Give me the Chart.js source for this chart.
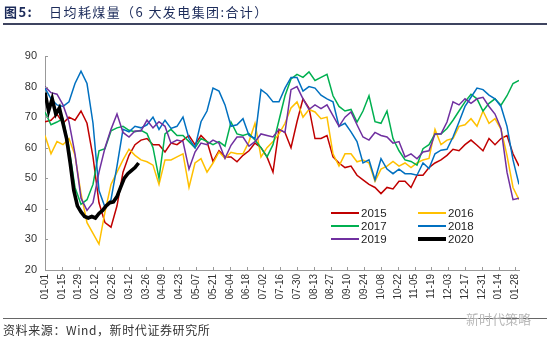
<!DOCTYPE html>
<html>
<head>
<meta charset="utf-8">
<script src="https://cdn.jsdelivr.net/npm/chart.js@4.4.1/dist/chart.umd.min.js"></script>
<style>
  body { margin: 0; background: #fff; }
  #wrap { position: relative; width: 550px; height: 340px; overflow: hidden; }
  #chart { position: absolute; left: 0; top: 0; }
  .title { position: absolute; left: 4px; top: 2px; font: 13px "Noto Sans CJK SC"; color: #1c2b5a; white-space: nowrap; letter-spacing: 1.4px; }
  .title b { margin-right: 16px; }
  .rule { position: absolute; left: 3px; width: 544px; }
  .source { position: absolute; left: 3px; top: 321px; font: 12px "Noto Sans CJK SC"; color: #333; white-space: nowrap; letter-spacing: 0.6px; }
  .mark { position: absolute; left: 466px; top: 309px; font: 13px "Noto Sans CJK SC"; color: #b8b8b8; white-space: nowrap; }
</style>
</head>
<body>
<div id="wrap">
  <canvas id="chart" width="550" height="340"></canvas>
  <div class="title"><b>图5:</b>日均耗煤量（6 大发电集团:合计）</div>
  <div class="rule" style="top:23px;height:1.5px;background:#3e4460;"></div>
  <div class="rule" style="top:318px;height:1px;background:#666;"></div>
  <div class="source">资料来源：Wind，新时代证券研究所</div>
  <div class="mark">新时代策略</div>
</div>
<script>
// day offsets from 01-01
var days = [0, 5, 10, 15, 20, 25, 30, 35, 40, 45,
  50, 55, 60, 65, 70, 75, 80, 85, 90, 95,
  100, 105, 110, 115, 120, 125, 130, 135, 140, 145,
  150, 155, 160, 165, 170, 175, 180, 185, 190, 195,
  200, 205, 210, 215, 220, 225, 230, 235, 240, 245,
  250, 255, 260, 265, 270, 275, 280, 285, 290, 295,
  300, 305, 310, 315, 320, 325, 330, 335, 340, 345,
  350, 355, 360, 365, 370, 375, 380, 385, 390, 395];
var days2020 = [0, 3, 6, 9, 12, 15, 18, 21, 24, 27, 30, 33, 36, 39, 42,
  45, 48, 51, 54, 57, 60, 63, 66, 69, 72, 75, 78];

var tickLabels = ["01-01", "01-15", "01-29", "02-12", "02-26", "03-12", "03-26",
  "04-09", "04-23", "05-07", "05-21", "06-04", "06-18", "07-02", "07-16", "07-30",
  "08-13", "08-27", "09-10", "09-24", "10-08", "10-22", "11-05", "11-19", "12-03",
  "12-17", "12-31", "01-14", "01-28"];

var y2015 = [68.5, 69, 71, 68, 70, 69, 72, 68, 57, 42,
  35.5, 34, 41, 52, 57.5, 61, 62.5, 63, 61, 61,
  58.6, 61.5, 61, 62.5, 64, 61, 64, 62, 55.5, 59,
  57, 57, 55.4, 57.5, 59, 61.5, 60, 57, 52, 66,
  65, 60, 68.5, 76, 73, 63, 63, 64, 57, 55,
  53.5, 54, 51, 49.5, 48, 47, 45, 47, 46.5, 49,
  49, 47, 51, 51, 53.5, 55, 56, 57.5, 59.5, 59,
  61, 62.5, 60.8, 59, 63, 61, 63, 64, 58, 54];
var y2016 = [64, 58, 62, 61, 63, 57.5, 45, 35.5, 32, 28.5,
  39, 48, 52, 56, 59.5, 57.5, 56, 55.4, 54.3, 48,
  56, 56, 57, 58, 47, 55, 56.4, 52, 55, 58.6,
  56.5, 58.5, 58, 58, 62, 68, 57, 60, 62, 64.5,
  68, 73, 75, 70, 72.5, 71.7, 69.5, 70, 58, 54,
  58, 58, 55.4, 56, 55, 49, 53, 54, 55.5, 54,
  55, 53.5, 55, 56, 56.5, 66, 61, 62.5, 63, 67,
  67.5, 69.5, 67, 72, 68, 69.5, 66, 57.5, 47, 43];
var y2017 = [71.7, 67.5, 68.4, 69.5, 60, 47, 41.5, 43, 48, 59,
  59.7, 65.5, 66.5, 67, 65.7, 65.2, 65.7, 64.6, 60, 50,
  64.5, 66, 64, 64, 62, 60, 63, 62, 61, 62,
  60.5, 68.4, 64.5, 64, 64.6, 62.5, 60, 57, 61, 69,
  77, 82.5, 84, 83, 84.8, 82, 83, 84, 77, 73.5,
  72, 72.5, 68.4, 72, 77, 68.5, 68, 72, 63, 59,
  56, 55.5, 54.3, 59.7, 61, 64.5, 64.5, 66.3, 69, 72,
  75, 77.5, 76, 72, 74.5, 76, 73.9, 77, 81, 82];
var y2018 = [79.5, 76, 74, 73.5, 75, 81, 85, 81, 68, 46,
  40.5, 43, 54, 66, 65.2, 67, 66.5, 67.5, 70, 66,
  69, 66.3, 67, 70, 63, 60, 68.5, 72, 79.5, 78.5,
  74, 67, 67.5, 69.5, 64, 63, 79, 77.5, 75, 75,
  79.5, 83, 83, 78.5, 80, 79.5, 77.2, 76, 75, 67,
  68, 65.2, 62, 55, 56, 49.5, 56.4, 53, 51.5, 53,
  51.5, 51.5, 51, 55, 53.2, 58, 59.2, 59.5, 63.5, 68.4,
  73.5, 76.5, 79.5, 79, 77.2, 76, 73.5, 67, 56, 48];
var y2019 = [80, 78, 77.5, 74, 68.4, 58, 43.5, 39.5, 42, 52,
  60, 66, 71, 65, 63.5, 65.5, 65.5, 69, 66.5, 68.5,
  67, 61.5, 62.5, 62, 53, 58.6, 61.5, 61, 62.5, 61.5,
  56.5, 60.8, 63.5, 63.5, 60.5, 62, 64.5, 64, 63.5, 66,
  65, 79, 80, 76, 72.5, 74, 72.8, 74, 70.5, 67,
  70, 71.7, 67.5, 63.5, 62.5, 65, 64, 63.5, 61.5, 62,
  57, 58, 56.4, 58.6, 59, 64.5, 64.5, 68.4, 75, 74,
  76, 74.5, 76, 76.5, 73.5, 71, 66.3, 52, 43, 43.5];
var y2020 = [78, 72, 76, 71, 73, 68, 63, 55, 46, 41, 39, 37.5, 37, 37.5, 37,
  38.5, 39.5, 41, 42, 42.3, 44, 47, 50, 51.5, 52.5, 53.5, 55];

var years = ["2015", "2016", "2017", "2018", "2019", "2020"];
var colors = ["#c00000", "#ffc000", "#00b050", "#0070c0", "#7030a0", "#000000"];
var series = [y2015, y2016, y2017, y2018, y2019, y2020];

function points(xs, ys) {
  var out = [];
  for (var i = 0; i < ys.length; i++) out.push({ x: xs[i], y: ys[i] });
  return out;
}

var datasets = series.map(function (ys, i) {
  var last = i == 5;
  return {
    label: years[i],
    data: points(last ? days2020 : days, ys),
    borderColor: colors[i],
    backgroundColor: colors[i],
    borderWidth: last ? 3.6 : 1.5,
    pointRadius: 0,
    tension: 0,
    order: 5 - i,
  };
});

// legend inside the plot (two columns) + short tick marks pointing into the plot
var innerLegend = {
  id: "innerLegend",
  afterDraw(chart) {
    var ctx = chart.ctx;
    var a = chart.chartArea;
    ctx.save();
    ctx.strokeStyle = "#999";
    ctx.lineWidth = 1;
    ctx.beginPath();
    chart.scales.y.ticks.forEach(function (t) {
      var py = Math.round(chart.scales.y.getPixelForValue(t.value)) + 0.5;
      ctx.moveTo(a.left, py);
      ctx.lineTo(a.left + 3, py);
    });
    chart.scales.x.ticks.forEach(function (t) {
      var px = Math.round(chart.scales.x.getPixelForValue(t.value)) + 0.5;
      ctx.moveTo(px, a.bottom);
      ctx.lineTo(px, a.bottom - 3);
    });
    ctx.stroke();

    ctx.font = "11.5px 'Liberation Sans', Arial";
    ctx.fillStyle = "#222";
    ctx.textBaseline = "middle";
    chart.data.datasets.forEach(function (ds, i) {
      var col = i % 2, row = Math.floor(i / 2);
      var x0 = a.left + (col ? 373 : 286);
      var y = a.top + 157 + row * 13;
      ctx.strokeStyle = ds.borderColor;
      ctx.lineWidth = i == 5 ? 4 : 2;
      ctx.beginPath();
      ctx.moveTo(x0, y);
      ctx.lineTo(x0 + 28, y);
      ctx.stroke();
      ctx.fillText(ds.label, x0 + 30, y + 0.5);
    });
    ctx.restore();
  },
};

new Chart(document.getElementById("chart"), {
  type: "line",
  data: { datasets: datasets },
  options: {
    responsive: false,
    animation: false,
    layout: { padding: { left: 0, right: 31, top: 56, bottom: 0 } },
    plugins: { legend: { display: false }, tooltip: { enabled: false } },
    scales: {
      x: {
        type: "linear",
        min: 0,
        max: 395,
        afterBuildTicks(scale) {
          scale.ticks = tickLabels.map(function (t, i) { return { value: i * 14 }; });
        },
        afterFit(scale) { scale.height = 70; },
        ticks: {
          autoSkip: false,
          maxRotation: 90,
          minRotation: 90,
          padding: 4,
          color: "#333",
          font: { family: "'Liberation Sans', Arial", size: 10 },
          callback: function (v) { return tickLabels[Math.round(v / 14)]; },
        },
        grid: { drawOnChartArea: false, drawTicks: false },
        border: { color: "#999" },
      },
      y: {
        min: 20,
        max: 90,
        afterFit(scale) { scale.width = 45; },
        ticks: {
          stepSize: 10,
          padding: 8,
          color: "#333",
          font: { family: "'Liberation Sans', Arial", size: 11 },
        },
        grid: { drawOnChartArea: false, drawTicks: false },
        border: { color: "#999" },
      },
    },
  },
  plugins: [innerLegend],
});
</script>
</body>
</html>
